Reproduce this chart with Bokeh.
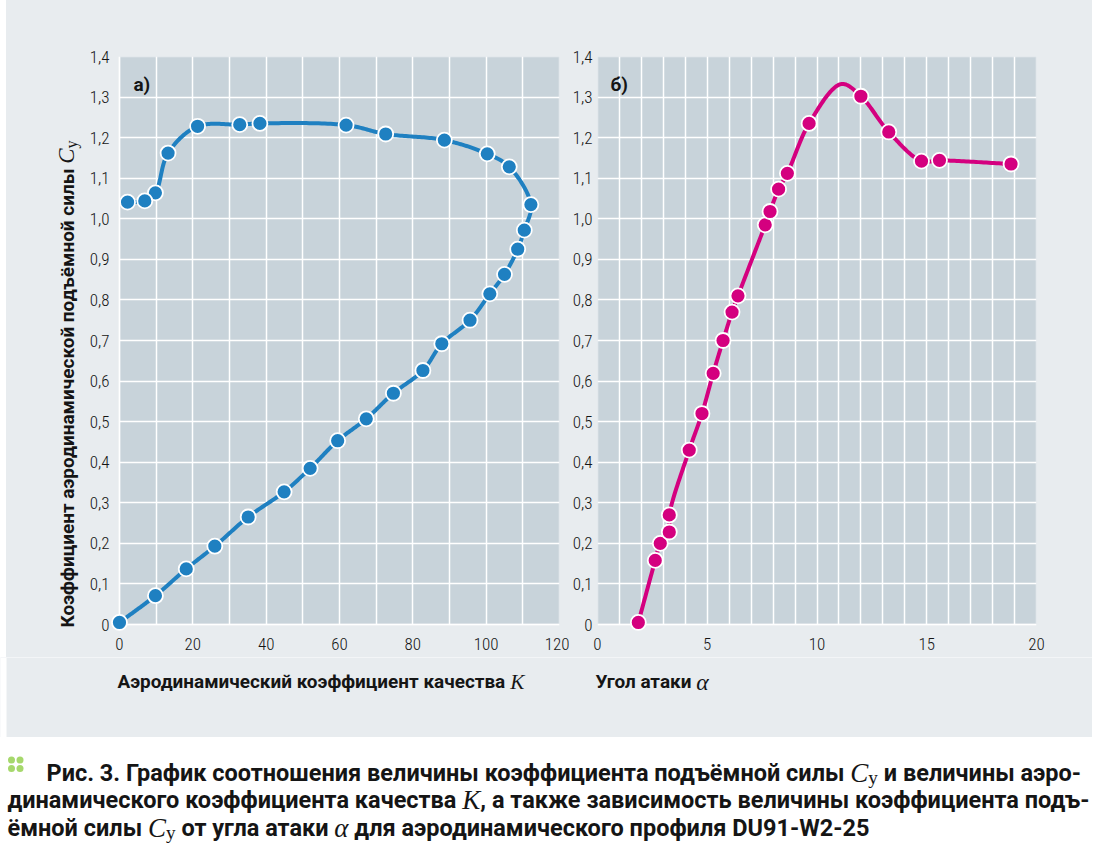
import math
import subprocess
import numpy as np
from bokeh.plotting import figure
from bokeh.layouts import column, row
from bokeh.models import (Range1d, FixedTicker, CustomJSTickFormatter, Label,
                          BoxAnnotation, Grid, Spacer)
from bokeh.embed import file_html
from bokeh.resources import INLINE

# ---------------------------------------------------------------- data
# panel a): lift coefficient Cy versus aerodynamic quality K (order along curve)
K_quality = [0.0, 9.8, 18.2, 26.0, 35.1, 44.9, 52.0, 59.5, 67.3, 74.7, 82.75,
             87.9, 95.6, 101.0, 105.0, 108.6, 110.4, 112.2, 106.3, 100.3, 88.6,
             72.6, 61.8, 38.3, 32.8, 21.3, 13.25, 9.8, 6.9, 2.2]
Cy_vs_K = [0.005, 0.071, 0.137, 0.193, 0.265, 0.327, 0.385, 0.453, 0.507, 0.570,
           0.626, 0.692, 0.750, 0.815, 0.863, 0.925, 0.972, 1.035, 1.128, 1.160,
           1.194, 1.209, 1.231, 1.235, 1.232, 1.228, 1.162, 1.064, 1.044, 1.041]

# panel б): lift coefficient Cy versus angle of attack alpha
alpha_deg = [1.86, 2.63, 2.86, 3.27, 3.27, 4.18, 4.76, 5.27, 5.72, 6.13, 6.40,
             7.64, 7.86, 8.25, 8.65, 9.64, 12.0, 13.27, 14.76, 15.58, 18.84]
Cy_vs_alpha = [0.005, 0.158, 0.200, 0.228, 0.270, 0.430, 0.520, 0.619, 0.700,
               0.770, 0.810, 0.985, 1.018, 1.073, 1.112, 1.235, 1.302, 1.214,
               1.142, 1.144, 1.135]
# stall peak of the drawn curve (no marker there)
alpha_peak = [11.1]
Cy_peak = [1.332]

K_ticks = [0, 20, 40, 60, 80, 100, 120]
K_minor = [10, 30, 50, 70, 90, 110]
alpha_ticks = [0, 5, 10, 15, 20]
alpha_minor = [1, 2, 3, 4, 6, 7, 8, 9, 11, 12, 13, 14, 16, 17, 18, 19]
Cy_ticks = [0.0, 0.1, 0.2, 0.3, 0.4, 0.5, 0.6, 0.7, 0.8, 0.9, 1.0, 1.1, 1.2, 1.3, 1.4]

y_label = "Коэффициент аэродинамической подъёмной силы"
xa_label = "Аэродинамический коэффициент качества"
xb_label = "Угол атаки"
caption_lines = [
    [("Рис. 3.", "b"), (" ", "sp"), ("График соотношения величины коэффициента подъёмной силы", "b"),
     (" ", "sp"), ("C", "it"), ("y", "sub"), (" ", "sp"), ("и величины аэро-", "b")],
    [("динамического коэффициента качества", "b"), (" ", "sp"), ("K", "it"),
     (", а также зависимость величины коэффициента подъ-", "b")],
    [("ёмной силы", "b"), (" ", "sp"), ("C", "it"), ("y", "sub"), (" ", "sp"),
     ("от угла атаки", "b"), (" ", "sp"), ("α", "it"), (" ", "sp"),
     ("для аэродинамического профиля DU91-W2-25", "b")],
]

# ---------------------------------------------------------------- style
PANEL = "#e8ecef"
PLOTBG = "#c8d3da"
BLUE = "#1f80c1"
PINK = "#d4007f"
GREEN = "#a6d86c"
INK = "#151515"


# ---------------------------------------------------------------- fonts
def fc_file(pattern, fam):
    try:
        r = subprocess.run(["fc-match", "-f", "%{family}\n%{file}", pattern],
                           capture_output=True, text=True, timeout=10)
        f, path = r.stdout.split("\n", 1)
        if fam.lower() in f.lower():
            return path.strip()
    except Exception:
        pass
    return None


def list_families():
    fams = []
    try:
        out = subprocess.run(["fc-list", ":", "family"], capture_output=True,
                             text=True, timeout=10).stdout
        for line in out.splitlines():
            for f in line.split(","):
                f = f.strip()
                if f and f not in fams:
                    fams.append(f)
    except Exception:
        pass
    return fams


def pick_condensed():
    fams = list_families()
    bad = ("mono", "serif", "cjk", "math", "emoji", "symbol")
    cands = [f for f in fams if ("condensed" in f.lower() or "narrow" in f.lower())
             and not any(b in f.lower() for b in bad)
             and "semi" not in f.lower() and "extra" not in f.lower()]
    for pref in ("Roboto Condensed Light", "Roboto Condensed", "Liberation Sans Narrow",
                 "Open Sans Condensed Light", "Open Sans Condensed",
                 "Noto Sans Condensed Light", "Noto Sans Condensed",
                 "DejaVu Sans Condensed"):
        if pref in cands:
            return pref
    for key in ("light", ""):
        for f in sorted(cands):
            if key in f.lower() and "black" not in f.lower() and "bold" not in f.lower():
                return f
    return None


SANS = "Roboto"
SERIF = "Liberation Serif"
_cond = pick_condensed()
if _cond:
    TICK_FONT, TICK_SIZE = _cond, 17
else:
    TICK_FONT, TICK_SIZE = "Roboto", 15

try:
    from PIL import ImageFont
except Exception:
    ImageFont = None

_fcache = {}


def _font(fam, style):
    key = (fam, style)
    if key in _fcache:
        return _fcache[key]
    f = None
    if ImageFont is not None:
        path = fc_file(f"{fam}:{style}", fam)
        if path:
            try:
                f = ImageFont.truetype(path, 200)
                if style == "bold":
                    try:
                        for n in f.get_variation_names():
                            if (n.decode() if isinstance(n, bytes) else n) == "Bold":
                                f.set_variation_by_name(n)
                    except Exception:
                        pass
            except Exception:
                f = None
    _fcache[key] = f
    return f


def tw(text, fam, style, size):
    f = _font(fam, style)
    if f is None:
        return len(text) * size * 0.55
    return f.getlength(text) * size / 200.0


# ---------------------------------------------------------------- geometry (page px)
HAS_CB = "cross_bounds" in Grid.properties()
PAD = 9 if HAS_CB else 0          # extra frame so edge markers are not clipped
FRAME_W = 441
FRAME_H = 568
AX0, BX0, Y0 = 118, 595, 624      # page pixels of the data origins
TOP = 56
ROW_H = 657
MARGIN_L = 6                      # white margin left of the grey panel
STRIP_W = 86
SXA = FRAME_W / 120.0
SXB = FRAME_W / 20.0
SY = FRAME_H / 1.4


def smooth_path(xs, ys, sx, sy, n=32, a=0.5):
    P = np.column_stack([np.asarray(xs, float) * sx, np.asarray(ys, float) * sy])
    P = np.vstack([2 * P[0] - P[1], P, 2 * P[-1] - P[-2]])
    out = [P[1]]
    for i in range(1, len(P) - 2):
        p0, p1, p2, p3 = P[i - 1], P[i], P[i + 1], P[i + 2]
        t0 = 0.0
        t1 = t0 + max(np.linalg.norm(p1 - p0), 1e-6) ** a
        t2 = t1 + max(np.linalg.norm(p2 - p1), 1e-6) ** a
        t3 = t2 + max(np.linalg.norm(p3 - p2), 1e-6) ** a
        t = np.linspace(t1, t2, n)[1:, None]
        A1 = (t1 - t) / (t1 - t0) * p0 + (t - t0) / (t1 - t0) * p1
        A2 = (t2 - t) / (t2 - t1) * p1 + (t - t1) / (t2 - t1) * p2
        A3 = (t3 - t) / (t3 - t2) * p2 + (t - t2) / (t3 - t2) * p3
        B1 = (t2 - t) / (t2 - t0) * A1 + (t - t0) / (t2 - t0) * A2
        B2 = (t3 - t) / (t3 - t1) * A2 + (t - t1) / (t3 - t1) * A3
        C = (t2 - t) / (t2 - t1) * B1 + (t - t1) / (t2 - t1) * B2
        out.extend(C)
    out = np.array(out)
    return out[:, 0] / sx, out[:, 1] / sy


def lab(p, x, y, text, font, size, style="normal", align="left",
        baseline="alphabetic", angle=0.0, color=INK):
    p.add_layout(Label(x=x, y=y, text=text, text_font=font,
                       text_font_size=f"{size:.2f}px", text_font_style=style,
                       text_color=color, text_align=align,
                       text_baseline=baseline, angle=angle))


def canvas(x0, x1, y0, y1, bg, white_left=0, fy0=None, fy1=None):
    """A plain figure whose data coordinates are page pixels (y downward).
    fy0/fy1: page rows actually covered by the frame (row alignment)."""
    fy0 = y0 if fy0 is None else fy0
    fy1 = y1 if fy1 is None else fy1
    p = figure(width=x1 - x0, height=y1 - y0, x_range=Range1d(x0, x1),
               y_range=Range1d(fy1, fy0), output_backend="svg", toolbar_location=None,
               x_axis_location=None, y_axis_location=None, title=None,
               min_border=0, min_border_left=0, min_border_right=0,
               min_border_top=0, min_border_bottom=0)
    p.outline_line_color = None
    p.background_fill_color = bg
    p.border_fill_color = bg
    p.grid.visible = False
    if white_left:
        p.add_layout(BoxAnnotation(left=x0 - 10, right=x0 + white_left,
                                   fill_color="white", fill_alpha=1.0,
                                   line_color=None, level="image"))
    return p


def make_panel(width, bl, br, xmax, sx, ticks, minor, padl):
    xr = Range1d(-padl / sx, xmax)
    yr = Range1d(-PAD / SY, 1.4)
    bottom = ROW_H - TOP - FRAME_H - PAD
    p = figure(width=width, height=ROW_H, x_range=xr, y_range=yr,
               output_backend="svg", toolbar_location=None, title=None,
               min_border_left=bl, min_border_right=br,
               min_border_top=TOP, min_border_bottom=bottom)
    p.background_fill_color = PANEL if HAS_CB else PLOTBG
    p.border_fill_color = PANEL
    p.outline_line_color = None if HAS_CB else "white"
    p.outline_line_width = 2
    box = BoxAnnotation(left=0, right=xmax, bottom=0, top=1.4,
                        fill_color=PLOTBG, fill_alpha=1.0,
                        line_color="white", line_width=2, level="image")
    p.add_layout(box)
    p.xaxis.ticker = FixedTicker(ticks=ticks, minor_ticks=minor)
    p.yaxis.ticker = FixedTicker(ticks=Cy_ticks)
    p.yaxis.formatter = CustomJSTickFormatter(
        code="return tick == 0 ? '0' : tick.toFixed(1).replace('.', ',');")
    for ax in p.axis:
        ax.axis_line_color = None
        ax.major_tick_line_color = None
        ax.minor_tick_line_color = None
        ax.major_tick_out = 0
        ax.major_tick_in = 0
        ax.major_label_text_font = TICK_FONT
        ax.major_label_text_font_size = f"{TICK_SIZE}px"
        ax.major_label_text_color = INK
    p.xaxis.major_label_standoff = 0 if HAS_CB else 8
    for g in p.grid:
        g.grid_line_color = "white"
        g.grid_line_width = 1.5
        g.grid_line_alpha = 1.0
        g.minor_grid_line_color = "white"
        g.minor_grid_line_width = 1.5
        g.minor_grid_line_alpha = 1.0
        if HAS_CB:
            g.cross_bounds = (0, xmax) if g.dimension == 1 else (0, 1.4)
    return p


tick_w = tw("1,4", TICK_FONT, "normal", TICK_SIZE)

# ---------------------------------------------------------------- panel a)
A_LEFT = STRIP_W
A_BL = AX0 - PAD - A_LEFT
A_W = A_BL + PAD + FRAME_W + 10
pa = make_panel(width=A_W, bl=A_BL, br=10, xmax=120, sx=SXA, ticks=K_ticks,
                minor=K_minor, padl=PAD)
pa.yaxis.major_label_standoff = max(0, min(10 - PAD, int(A_BL - tick_w - 1)))
lx, ly = smooth_path(K_quality, Cy_vs_K, SXA, SY)
pa.line(lx, ly, line_color=BLUE, line_width=4, line_cap="round", line_join="round")
pa.scatter(K_quality, Cy_vs_K, size=15, fill_color=BLUE, line_color="white",
           line_width=1.8)

# ---------------------------------------------------------------- panel б)
B_LEFT = A_LEFT + A_W
B_BL = BX0 - B_LEFT
B_BR = 1092 - (BX0 + FRAME_W)
pb = make_panel(width=B_BL + FRAME_W + B_BR, bl=B_BL, br=B_BR, xmax=20, sx=SXB,
                ticks=alpha_ticks, minor=alpha_minor, padl=0)
pb.yaxis.major_label_standoff = max(0, min(9, int(B_BL - tick_w - 1)))
pairs = sorted(zip(alpha_deg + alpha_peak, Cy_vs_alpha + Cy_peak), key=lambda t: t[0])
rx, ry = smooth_path([t[0] for t in pairs], [t[1] for t in pairs], SXB, SY)
pb.line(rx, ry, line_color=PINK, line_width=4, line_cap="round", line_join="round")
pb.scatter(alpha_deg, Cy_vs_alpha, size=15, fill_color=PINK, line_color="white",
           line_width=1.8)

# panel letters (inside the frames)
lab(pa, (132 - AX0) / SXA, (Y0 - 84) / SY, "а)", SANS, 19, "bold")
lab(pb, (608 - BX0) / SXB, (Y0 - 84) / SY, "б)", SANS, 19, "bold")

# ---------------------------------------------------------------- y-label strip
# the row aligns this strip's frame with the panels' frames (rows TOP..633)
margin = Spacer(width=MARGIN_L, height=ROW_H, styles={"background-color": "white"})
ys = canvas(MARGIN_L, STRIP_W, 0, ROW_H, PANEL, fy0=TOP, fy1=TOP + FRAME_H + PAD)
sy_a = max(16.0, min(21.0, 459.0 / max(tw(y_label, SANS, "bold", 1.0), 1e-6)))
L_main = tw(y_label, SANS, "bold", sy_a)
Ystart, Xc = 627, 67
lab(ys, Xc, Ystart - L_main / 2, y_label, SANS, sy_a, "bold", align="center",
    baseline="middle", angle=math.pi / 2)
Yc = Ystart - L_main - tw(" ", SANS, "bold", sy_a)
wC = tw("C", SERIF, "italic", sy_a * 1.2)
lab(ys, Xc - 1, Yc - wC / 2, "C", SERIF, sy_a * 1.2, "italic", align="center",
    baseline="middle", angle=math.pi / 2)
wy = tw("y", SERIF, "normal", sy_a * 0.85)
lab(ys, Xc + 4, Yc - wC - wy / 2, "y", SERIF, sy_a * 0.85, "normal", align="center",
    baseline="middle", angle=math.pi / 2)

# ---------------------------------------------------------------- x-label strip
xs = canvas(0, 1092, ROW_H, 737, PANEL, white_left=MARGIN_L)
sx_a = max(16.0, min(21.0, 388.0 / max(tw(xa_label, SANS, "bold", 1.0), 1e-6)))
X = 117
lab(xs, X, 681, xa_label, SANS, sx_a, "bold")
X += tw(xa_label + " ", SANS, "bold", sx_a)
lab(xs, X, 681, "K", SERIF, sx_a * 1.12, "italic")
X = 595
lab(xs, X, 681, xb_label, SANS, sx_a, "bold")
X += tw(xb_label + " ", SANS, "bold", sx_a)
lab(xs, X, 681, "α", SERIF, sx_a * 1.25, "italic")

# ---------------------------------------------------------------- caption
pc = canvas(0, 1092, 737, 847, "white")
dot_x = [11, 19.5, 11, 19.5]
dot_y = [759.5, 759.5, 768, 768]
pc.scatter(dot_x, dot_y, size=7, fill_color=GREEN, line_color=None)


def piece_style(kind, s):
    if kind in ("b", "sp"):
        return SANS, "bold", s, 0.0
    if kind == "it":
        return SERIF, "italic", s * 1.15, 0.0
    return SERIF, "normal", s * 0.82, 4.5


def line_width_at(pieces, s):
    w = 0.0
    for txt, kind in pieces:
        fam, st, sz, _ = piece_style(kind, s)
        w += tw(txt, fam, st, sz)
    return w


BASE = 21.0
starts = [46, 7, 7]
base_y = [772, 799.5, 827]
targets = [1090, 1090, None]
sizes = []
for i in range(2):
    w = line_width_at(caption_lines[i], BASE)
    sizes.append(max(18.5, min(23.5, BASE * (targets[i] - starts[i]) / max(w, 1e-6))))
sizes.append(sum(sizes) / 2.0)

for pieces, x0, yb, s in zip(caption_lines, starts, base_y, sizes):
    X = x0
    for txt, kind in pieces:
        fam, st, sz, dy = piece_style(kind, s)
        if kind != "sp":
            lab(pc, X, yb + dy, txt, fam, sz, st)
        X += tw(txt, fam, st, sz)

layout = column(row(margin, ys, pa, pb, styles={"background-color": PANEL}),
                xs, pc)
open("out.html", "w").write(file_html(layout, INLINE))
